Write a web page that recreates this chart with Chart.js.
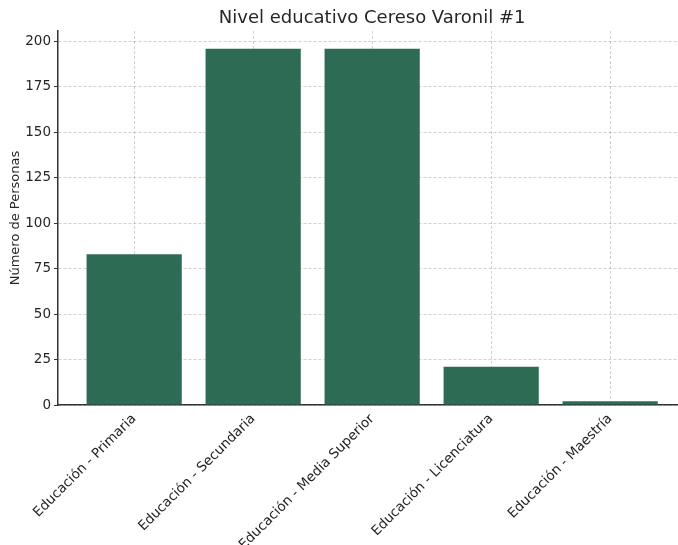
<!DOCTYPE html>
<html>
<head>
<meta charset="utf-8">
<script src="https://cdn.jsdelivr.net/npm/chart.js"></script>
<style>
    html, body { margin: 0; padding: 0; background: #fff; overflow: hidden; }
    #wrap { width: 678px; height: 545px; }
</style>
</head>
<body>
<div id="wrap"><canvas id="chart" width="678" height="545"></canvas></div>
<script>
// ข้อมูลของกราฟ
const chartTitle = 'Nivel educativo Cereso Varonil #1';
const yAxisTitle = 'Número de Personas';
const categories = [
    'Educación - Primaria',
    'Educación - Secundaria',
    'Educación - Media Superior',
    'Educación - Licenciatura',
    'Educación - Maestría'
];
const personas = [83, 196, 196, 21, 2];
const yTicks = [0, 25, 50, 75, 100, 125, 150, 175, 200];

const FONT = "'DejaVu Sans', sans-serif";
const barColor = '#2e6b55';
const gridColor = 'rgba(0,0,0,0.18)';
const axisColor = '#333333';

// วาดชื่อกราฟให้อยู่กึ่งกลางแกน (แบบ matplotlib)
const titlePlugin = {
    id: 'axesTitle',
    afterDraw(chart) {
        const ctx = chart.ctx;
        const x = chart.scales.x.getPixelForValue((categories.length - 1) / 2);
        ctx.save();
        ctx.font = '18px ' + FONT;
        ctx.fillStyle = '#262626';
        ctx.textAlign = 'center';
        ctx.textBaseline = 'middle';
        ctx.fillText(chartTitle, x, 18);
        ctx.restore();
    }
};

const ctx = document.getElementById('chart').getContext('2d');
new Chart(ctx, {
    type: 'bar',
    data: {
        datasets: [{
            label: yAxisTitle,
            data: categories.map((c, i) => ({ x: i, y: personas[i] })),
            backgroundColor: barColor,
            borderWidth: 0,
            categoryPercentage: 0.8,
            barPercentage: 1.0
        }]
    },
    options: {
        responsive: false,
        animation: false,
        layout: { padding: { top: 31, left: 0, right: 0, bottom: 0 } },
        plugins: {
            legend: { display: false },
            title: { display: false },
            tooltip: { enabled: false }
        },
        scales: {
            x: {
                type: 'linear',
                offset: false,
                min: -0.64,
                max: 4.57,
                afterBuildTicks: (scale) => {
                    scale.ticks = categories.map((c, i) => ({ value: i }));
                },
                afterFit: (scale) => { scale.height = 140; },
                ticks: {
                    autoSkip: false,
                    minRotation: 45,
                    maxRotation: 45,
                    padding: 6,
                    color: '#262626',
                    font: { family: FONT, size: 13.5 },
                    callback: (v) => categories[v]
                },
                grid: {
                    offset: false,
                    color: gridColor,
                    lineWidth: 1,
                    drawTicks: false
                },
                border: { display: true, color: axisColor, width: 1.5, dash: [3, 2] }
            },
            y: {
                min: 0,
                max: 205.8,
                afterBuildTicks: (scale) => {
                    scale.ticks = yTicks.map(v => ({ value: v }));
                },
                afterFit: (scale) => { scale.width = 58; },
                ticks: {
                    padding: 3,
                    color: '#262626',
                    font: { family: FONT, size: 13.5 }
                },
                grid: {
                    color: gridColor,
                    lineWidth: 1,
                    drawTicks: true,
                    tickLength: 4,
                    tickColor: axisColor,
                    tickWidth: 1
                },
                border: { display: true, color: axisColor, width: 1.5, dash: [3, 2] },
                title: {
                    display: true,
                    text: yAxisTitle,
                    color: '#262626',
                    font: { family: FONT, size: 13 },
                    padding: { top: 8, bottom: 4 }
                }
            }
        }
    },
    plugins: [titlePlugin]
});
</script>
</body>
</html>
